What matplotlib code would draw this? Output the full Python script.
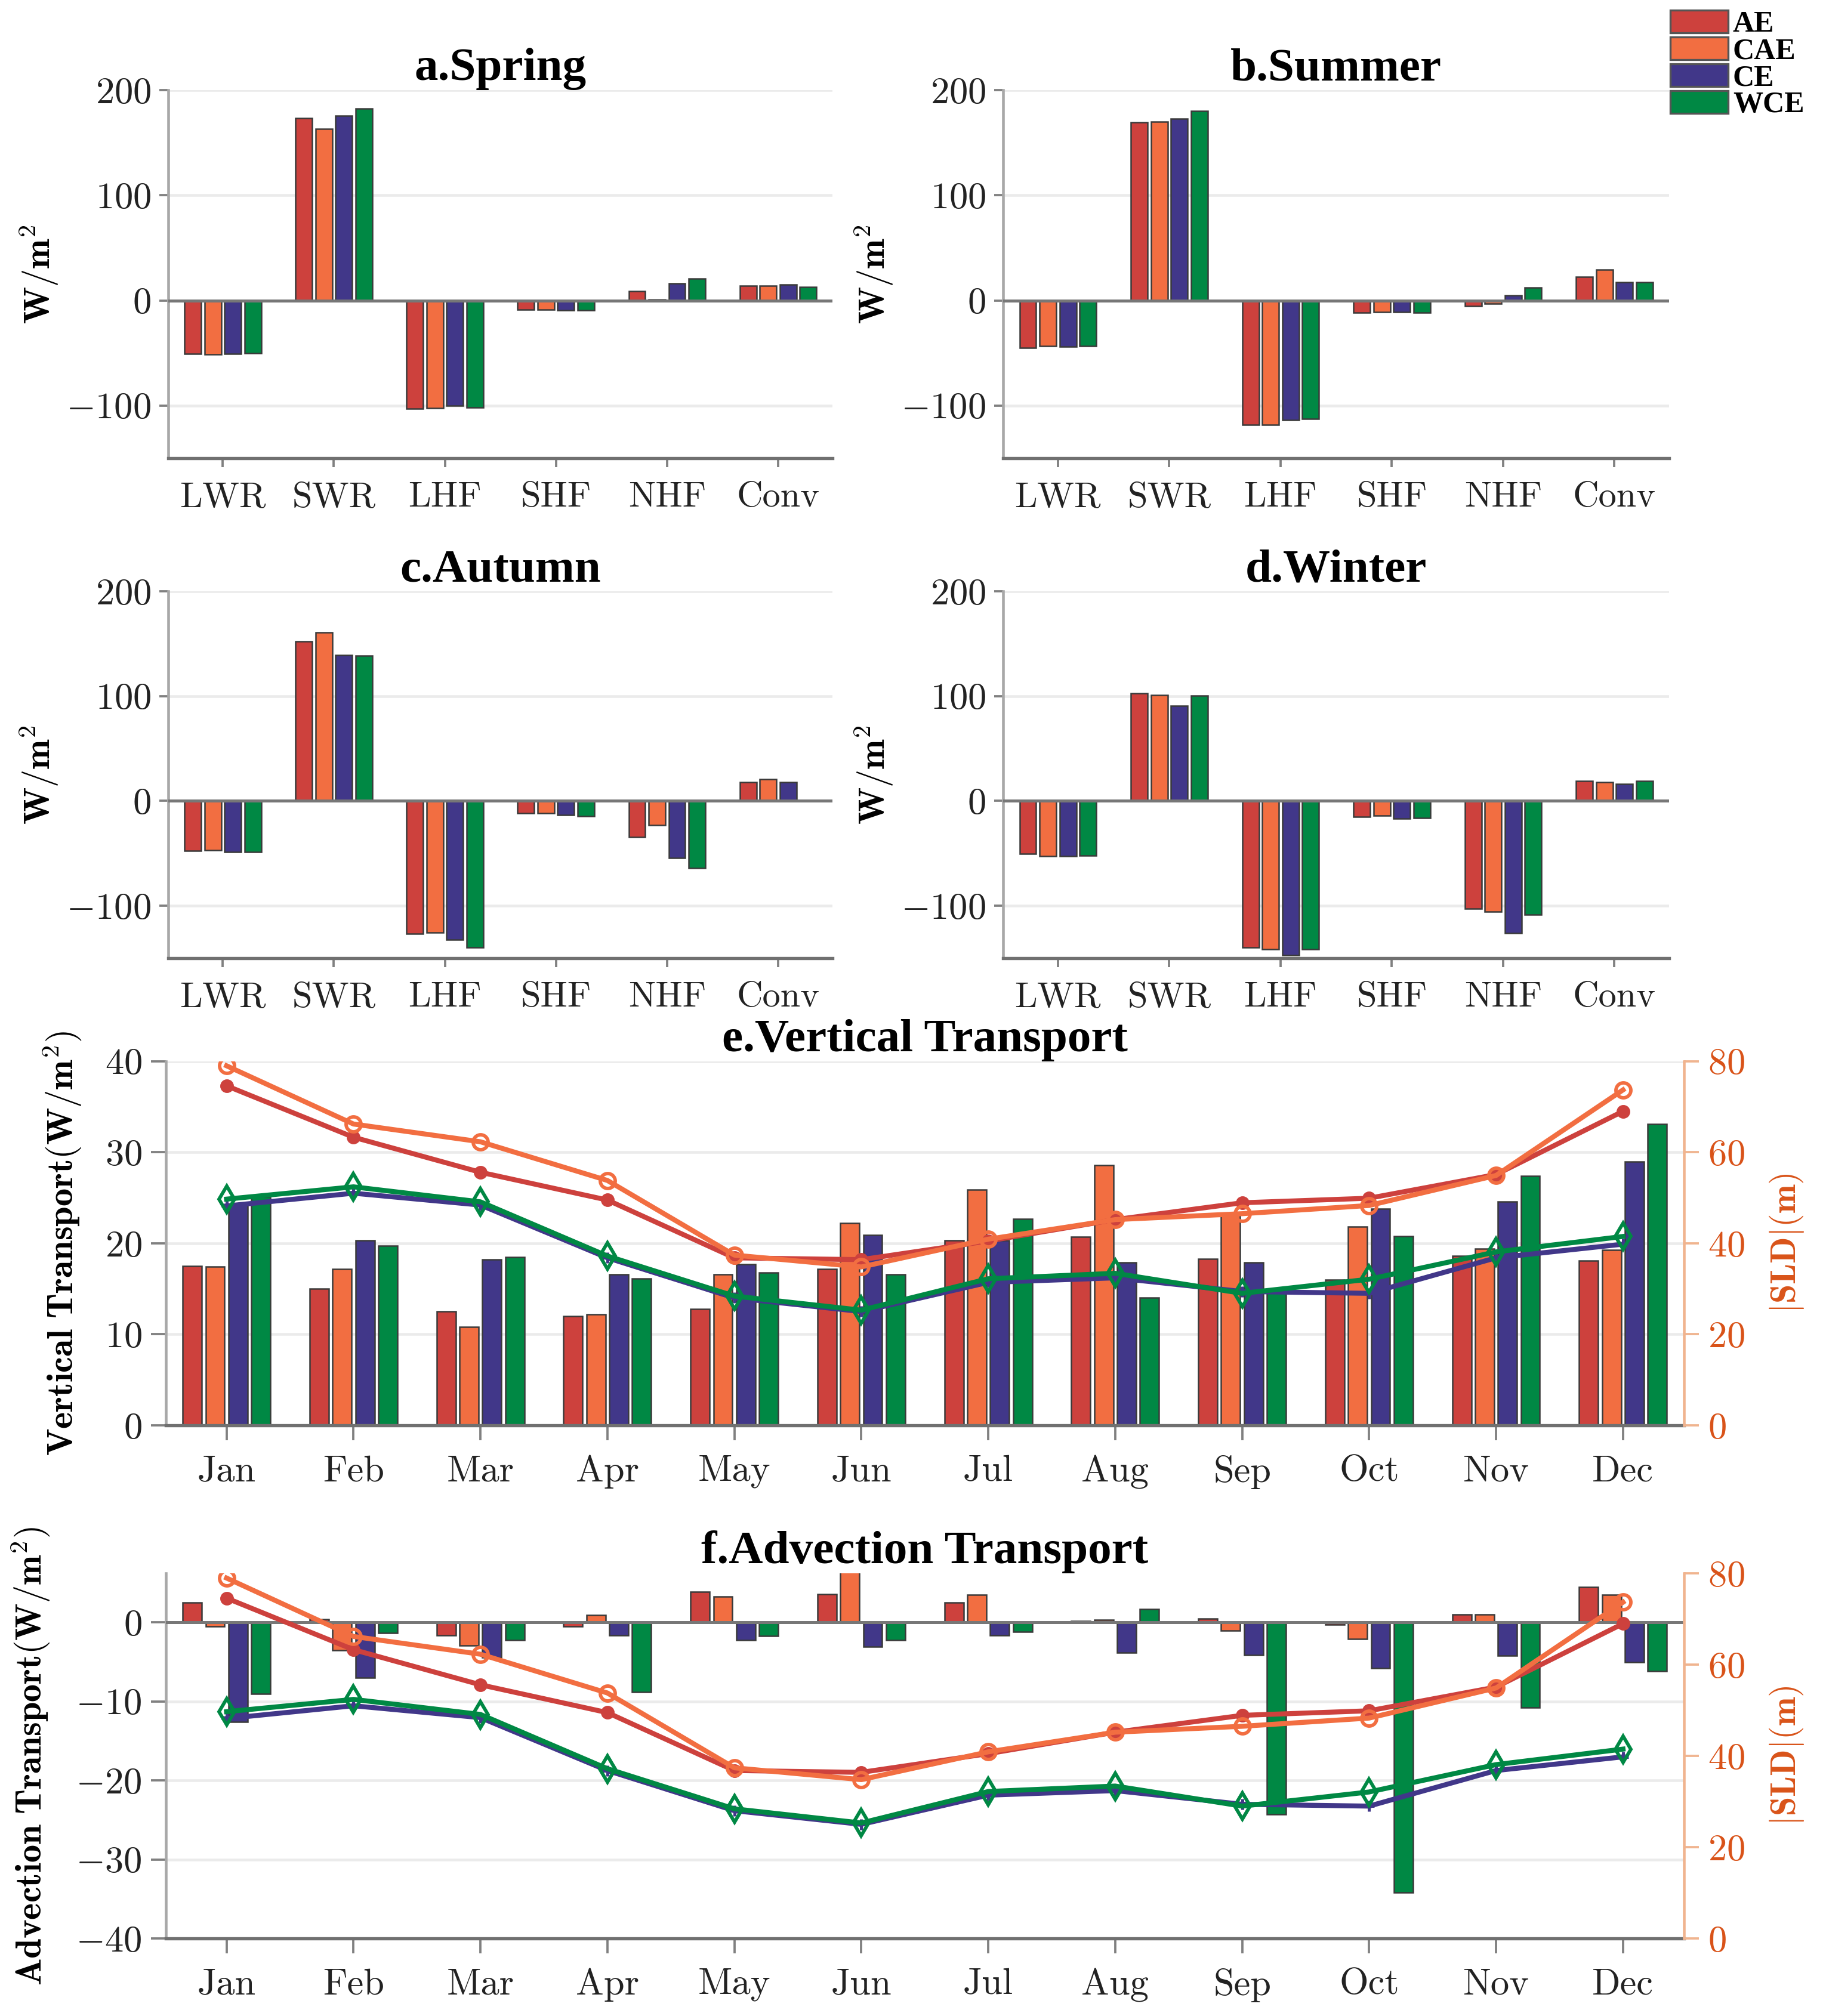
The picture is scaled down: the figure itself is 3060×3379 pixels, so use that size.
import numpy as np
import matplotlib
matplotlib.use("Agg")
import matplotlib.pyplot as plt
from matplotlib.patches import Patch
from matplotlib.font_manager import FontProperties

plt.rcParams['font.family'] = ['cmr10', 'DejaVu Serif']
plt.rcParams['mathtext.fontset'] = 'cm'
plt.rcParams['axes.formatter.use_mathtext'] = True

# ---------------- data ----------------
categories = ['LWR', 'SWR', 'LHF', 'SHF', 'NHF', 'Conv']
regions = ['AE', 'CAE', 'CE', 'WCE']

spring_AE = [-51.0, 173.6, -103.2, -9.0, 9.0, 13.7]
spring_CAE = [-51.6, 163.4, -102.5, -9.0, 1.0, 13.7]
spring_CE = [-50.6, 176.0, -100.0, -9.2, 16.5, 15.3]
spring_WCE = [-50.0, 182.5, -102.0, -9.2, 20.7, 13.0]

summer_AE = [-45.2, 169.4, -118.5, -11.5, -5.1, 22.3]
summer_CAE = [-43.3, 170.0, -118.5, -10.8, -2.9, 29.3]
summer_CE = [-44.0, 173.2, -114.0, -10.8, 5.1, 17.5]
summer_WCE = [-43.6, 180.3, -112.7, -11.5, 12.0, 17.2]

autumn_AE = [-47.5, 152.4, -126.9, -11.9, -34.2, 17.8]
autumn_CAE = [-46.7, 160.8, -125.4, -11.9, -23.2, 20.8]
autumn_CE = [-48.4, 139.0, -132.2, -13.4, -54.4, 17.8]
autumn_WCE = [-48.4, 138.5, -139.7, -14.3, -63.9, float('nan')]

winter_AE = [-50.5, 102.5, -139.7, -14.9, -102.5, 19.3]
winter_CAE = [-52.6, 101.0, -141.2, -14.0, -105.5, 17.8]
winter_CE = [-52.6, 90.6, -147.1, -16.9, -126.3, 16.3]
winter_WCE = [-52.0, 100.7, -141.2, -16.3, -108.5, 19.3]

months = ['Jan', 'Feb', 'Mar', 'Apr', 'May', 'Jun',
          'Jul', 'Aug', 'Sep', 'Oct', 'Nov', 'Dec']

vt_AE = [17.5, 15.0, 12.5, 12.0, 12.8, 17.2, 20.3, 20.7, 18.3, 16.0, 18.6, 18.1]
vt_CAE = [17.4, 17.2, 10.8, 12.2, 16.6, 22.2, 25.9, 28.6, 23.2, 21.8, 19.4, 19.3]
vt_CE = [24.3, 20.3, 18.2, 16.6, 17.7, 20.9, 20.3, 17.9, 17.9, 23.8, 24.6, 29.0]
vt_WCE = [25.1, 19.7, 18.5, 16.1, 16.8, 16.6, 22.7, 14.0, 14.7, 20.8, 27.4, 33.1]

adv_AE = [2.5, 0.4, -1.6, -0.5, 3.9, 3.6, 2.5, 0.15, 0.5, -0.3, 1.0, 4.5]
adv_CAE = [-0.5, -3.5, -2.9, 0.9, 3.3, 6.6, 3.5, 0.35, -1.0, -2.1, 1.0, 3.5]
adv_CE = [-12.6, -7.0, -4.4, -1.6, -2.2, -3.1, -1.6, -3.8, -4.1, -5.8, -4.2, -5.0]
adv_WCE = [-9.0, -1.3, -2.2, -8.8, -1.7, -2.2, -1.2, 1.7, -24.3, -34.2, -10.8, -6.2]

sld_AE = [74.6, 63.3, 55.6, 49.5, 36.8, 36.4, 40.5, 45.2, 48.9, 49.9, 55.1, 69.0]
sld_CAE = [79.0, 66.2, 62.3, 53.8, 37.4, 34.8, 40.9, 45.2, 46.5, 48.3, 54.9, 73.7]
sld_CE = [48.2, 51.0, 48.4, 36.8, 28.0, 25.0, 31.4, 32.4, 29.4, 29.0, 36.8, 39.8]
sld_WCE = [49.7, 52.4, 49.1, 37.2, 28.4, 25.3, 32.2, 33.4, 29.0, 32.1, 38.1, 41.5]

# ---------------- style ----------------
colors = ['#CD413D', '#F26E41', '#413789', '#008844']
edge = '#3a3a3a'
orange_axis = '#D95319'
grid_col = '#ebebeb'
title_font = FontProperties(family='Liberation Serif', weight='bold', size=19)
tick_size = 15
offsets = [-0.27, -0.09, 0.09, 0.27]
bw = 0.15

fig = plt.figure(figsize=(10.2, 3379 / 300), dpi=300)


def base_style(ax, ticklen):
    ax.spines['top'].set_visible(False)
    ax.spines['right'].set_visible(False)
    ax.spines['left'].set_color('#a8a8a8')
    ax.spines['bottom'].set_color('#707070')
    ax.spines['left'].set_linewidth(1.1)
    ax.spines['bottom'].set_linewidth(1.3)
    ax.tick_params(axis='both', direction='out', length=ticklen, width=0.9,
                   color='#808080', labelsize=tick_size, labelcolor='#222222')
    ax.yaxis.grid(True, color=grid_col, lw=1.1)
    ax.set_axisbelow(True)


seasons = [
    ('a.Spring', [spring_AE, spring_CAE, spring_CE, spring_WCE], [0.0922, 0.7728, 0.3637, 0.1824]),
    ('b.Summer', [summer_AE, summer_CAE, summer_CE, summer_WCE], [0.5495, 0.7728, 0.3645, 0.1824]),
    ('c.Autumn', [autumn_AE, autumn_CAE, autumn_CE, autumn_WCE], [0.0922, 0.5247, 0.3637, 0.1820]),
    ('d.Winter', [winter_AE, winter_CAE, winter_CE, winter_WCE], [0.5495, 0.5247, 0.3645, 0.1820]),
]

xc = np.arange(1, len(categories) + 1)
for title, data, rect in seasons:
    ax = fig.add_axes(rect)
    base_style(ax, 3.5)
    for i, vals in enumerate(data):
        ax.bar(xc + offsets[i], vals, width=bw, color=colors[i],
               edgecolor=edge, linewidth=0.6, zorder=2)
    ax.axhline(0, color='#777777', lw=1.2, zorder=3)
    ax.set_xlim(0.51, 6.49)
    ax.set_ylim(-150, 200)
    ax.set_yticks([-100, 0, 100, 200])
    ax.set_xticks(xc)
    ax.set_xticklabels(categories, fontsize=14.5)
    ax.tick_params(axis='x', pad=6)
    ax.set_title(title, fontproperties=title_font, pad=3)
    ax.set_ylabel(r'$\mathbf{W/m^2}$', fontsize=14.5)
    ax.yaxis.set_label_coords(-0.163, 0.5)

xm = np.arange(1, len(months) + 1)
line_specs = [
    dict(marker='o', ms=4.5, mfc=colors[0], mec=colors[0]),
    dict(marker='o', ms=6.0, mfc='none', mec=colors[1], mew=1.4),
    dict(marker='+', ms=4.5, mfc=colors[2], mec=colors[2], mew=1.2),
    dict(marker='d', ms=7.5, mfc='none', mec=colors[3], mew=1.4),
]
sld_all = [sld_AE, sld_CAE, sld_CE, sld_WCE]


def month_panel(rect, bars, ylim, yticks, title, ylabel, ylab_x):
    ax = fig.add_axes(rect)
    base_style(ax, 6)
    for i, vals in enumerate(bars):
        ax.bar(xm + offsets[i], vals, width=bw, color=colors[i],
               edgecolor=edge, linewidth=0.6, zorder=2)
    if ylim[0] < 0:
        ax.axhline(0, color='#777777', lw=1.2, zorder=3)
    ax.set_xlim(0.52, 12.48)
    ax.set_ylim(*ylim)
    ax.set_yticks(yticks)
    ax.set_xticks(xm)
    ax.set_xticklabels(months, fontsize=15)
    ax.tick_params(axis='x', pad=6)
    ax.set_title(title, fontproperties=title_font, pad=2)
    ax.set_ylabel(ylabel, fontsize=14.5)
    ax.yaxis.set_label_coords(ylab_x, 0.5)

    ax2 = ax.twinx()
    for s in ['top', 'left', 'bottom']:
        ax2.spines[s].set_visible(False)
    ax2.spines['right'].set_color('#f0b48f')
    ax2.spines['right'].set_linewidth(1.1)
    for i, vals in enumerate(sld_all):
        ax2.plot(xm, vals, color=colors[i], lw=2.0, zorder=4, **line_specs[i])
    ax2.set_ylim(0, 80)
    ax2.set_yticks([0, 20, 40, 60, 80])
    ax2.tick_params(axis='y', direction='out', length=6, width=0.9,
                    color='#f0b48f', labelsize=tick_size, labelcolor=orange_axis)
    ax2.set_ylabel(r'$\mathbf{|SLD|(m)}$', fontsize=14, color=orange_axis)
    ax2.yaxis.set_label_coords(1.055, 0.5)
    return ax, ax2


month_panel([0.0907, 0.2930, 0.8315, 0.1806],
            [vt_AE, vt_CAE, vt_CE, vt_WCE], (0, 40), [0, 10, 20, 30, 40],
            'e.Vertical Transport', r'$\mathbf{Vertical\ Transport(W/m^2)}$', -0.054)

month_panel([0.0907, 0.0385, 0.8315, 0.1810],
            [adv_AE, adv_CAE, adv_CE, adv_WCE], (-40, 6.2), [-40, -30, -20, -10, 0],
            'f.Advection Transport', r'$\mathbf{Advection\ Transport(W/m^2)}$', -0.075)

handles = [Patch(facecolor=c, edgecolor='#555555', linewidth=0.8, label=r)
           for c, r in zip(colors, regions)]
fig.legend(handles=handles, loc='upper right', bbox_to_anchor=(0.988, 0.995),
           frameon=False,
           prop=FontProperties(family='Liberation Serif', weight='bold', size=12),
           handlelength=1.95, handleheight=0.8, labelspacing=-0.05,
           handletextpad=0.15, borderaxespad=0, borderpad=0)

fig.savefig('out.png', dpi=300)
